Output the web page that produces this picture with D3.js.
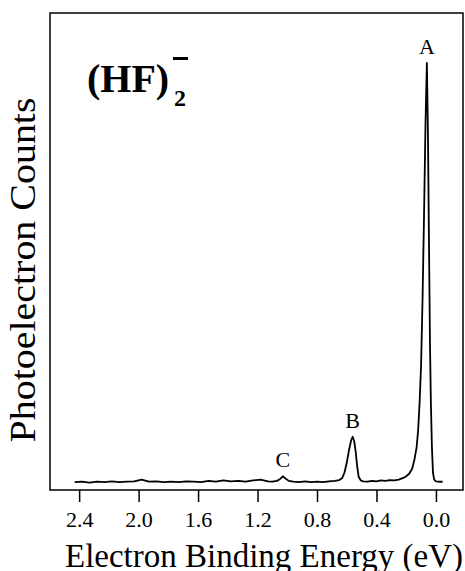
<!DOCTYPE html>
<html>
<head>
<meta charset="utf-8">
<script src="https://cdn.jsdelivr.net/npm/d3@7"></script>
<style>
  body { margin: 0; background: #fff; }
  svg text { font-family: "Liberation Serif", "Times New Roman", serif; fill: #000; }
</style>
</head>
<body>
<div class="chart"></div>
<script>
// binding energy (eV) and photoelectron counts (arb. units, peak A = 100)
var energy = [2.43, 2.38, 2.33, 2.28, 2.23, 2.18, 2.13, 2.08, 2.03, 1.98, 1.93, 1.88, 1.83, 1.78, 1.73,
  1.68, 1.63, 1.58, 1.53, 1.48, 1.43, 1.38, 1.33, 1.28, 1.23, 1.18, 1.13, 1.10, 1.07, 1.05, 1.03, 1.01,
  0.99, 0.96, 0.92, 0.88, 0.84, 0.80, 0.76, 0.72, 0.68, 0.65, 0.63, 0.615, 0.60, 0.585, 0.57, 0.56, 0.55,
  0.54, 0.53, 0.52, 0.505, 0.49, 0.46, 0.43, 0.40, 0.37, 0.34, 0.31, 0.28, 0.25, 0.22, 0.20, 0.18, 0.16,
  0.145, 0.13, 0.12, 0.11, 0.10, 0.09, 0.08, 0.07, 0.061, 0.054, 0.047, 0.04, 0.034, 0.027, 0.02, 0.012,
  0.0, -0.02, -0.045];
var counts = [0.2, 0.3, 0.1, 0.3, 0.2, 0.4, 0.2, 0.3, 0.4, 0.8, 0.3, 0.4, 0.2, 0.3, 0.2,
  0.4, 0.3, 0.2, 0.5, 0.3, 0.6, 0.4, 0.5, 0.3, 0.6, 0.8, 0.4, 0.3, 0.5, 0.9, 1.6, 1.0,
  0.5, 0.3, 0.2, 0.4, 0.2, 0.3, 0.2, 0.4, 0.5, 0.7, 1.2, 2.5, 4.8, 7.8, 10.2, 11.0, 10.0,
  7.5, 4.0, 1.5, 0.6, 0.4, 0.3, 0.5, 0.4, 0.6, 0.5, 0.7, 0.6, 0.8, 1.2, 1.6, 2.2, 3.4,
  5.5, 8.5, 12.5, 19, 28, 44, 64, 86, 100, 84, 58, 33, 19, 8.5, 2.5, 0.8,
  0.4, 0.3, 0.3];

var tickValues = [2.4, 2.0, 1.6, 1.2, 0.8, 0.4, 0.0];

var peakNames = ["A", "B", "C"];
var peakEnergy = [0.061, 0.56, 1.03];
var peakCounts = [100, 11.0, 1.6];

var data = energy.map(function (e, i) { return { e: e, c: counts[i] }; });

var svg = d3.select(".chart")
  .append("svg")
  .attr("width", 465)
  .attr("height", 571);

var plotLeft = 50, plotRight = 463, plotTop = 13, plotBottom = 490;

var x = d3.scaleLinear()
  .domain([2.596, -0.182])
  .range([plotLeft, plotRight]);

var y = d3.scaleLinear()
  .domain([-1.67, 111.9])
  .range([plotBottom, plotTop]);

// frame
svg.append("rect")
  .attr("x", plotLeft)
  .attr("y", plotTop)
  .attr("width", plotRight - plotLeft)
  .attr("height", plotBottom - plotTop)
  .attr("fill", "none")
  .attr("stroke", "#000")
  .attr("stroke-width", 1.5);

// x axis
var xAxis = svg.append("g")
  .attr("transform", "translate(0," + plotBottom + ")")
  .call(d3.axisBottom(x)
    .tickValues(tickValues)
    .tickSize(12)
    .tickPadding(9)
    .tickFormat(d3.format(".1f")));
xAxis.select(".domain").remove();
xAxis.selectAll(".tick line").attr("stroke", "#000").attr("stroke-width", 1.5);
xAxis.selectAll(".tick text")
  .attr("font-size", 22)
  .style("font-family", "'Liberation Serif', serif");

// spectrum
var line = d3.line()
  .x(function (d) { return x(d.e); })
  .y(function (d) { return y(d.c); });

svg.append("path")
  .datum(data)
  .attr("d", line)
  .attr("fill", "none")
  .attr("stroke", "#000")
  .attr("stroke-width", 1.8)
  .attr("stroke-linejoin", "round");

// peak labels
svg.selectAll("text.peak")
  .data(peakNames)
  .enter()
  .append("text")
  .classed("peak", true)
  .attr("x", function (d, i) { return x(peakEnergy[i]); })
  .attr("y", function (d, i) { return y(peakCounts[i]) - 9; })
  .attr("text-anchor", "middle")
  .attr("font-size", 22)
  .text(function (d) { return d; });

// species label
svg.append("text")
  .attr("x", 87)
  .attr("y", 92)
  .attr("font-size", 40)
  .attr("font-weight", "bold")
  .text("(HF)");
svg.append("text")
  .attr("x", 174)
  .attr("y", 106)
  .attr("font-size", 24)
  .attr("font-weight", "bold")
  .text("2");
svg.append("rect")
  .attr("x", 173)
  .attr("y", 57)
  .attr("width", 15)
  .attr("height", 3)
  .attr("fill", "#000");

// axis titles
svg.append("text")
  .attr("x", 264)
  .attr("y", 567)
  .attr("text-anchor", "middle")
  .attr("font-size", 33)
  .text("Electron Binding Energy (eV)");

svg.append("text")
  .attr("transform", "translate(35,270) rotate(-90)")
  .attr("text-anchor", "middle")
  .attr("font-size", 35)
  .attr("textLength", 345)
  .attr("lengthAdjust", "spacingAndGlyphs")
  .text("Photoelectron Counts");
</script>
</body>
</html>
